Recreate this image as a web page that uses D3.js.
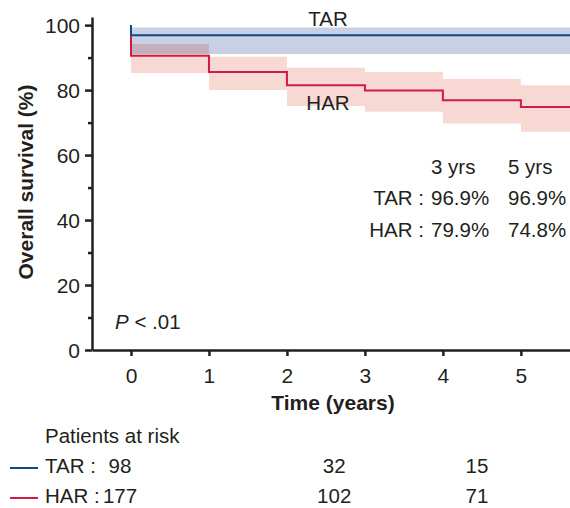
<!DOCTYPE html>
<html lang="en">
<head>
    <meta charset="UTF-8">
    <title>Overall survival TAR vs HAR</title>
    <script src="https://d3js.org/d3.v7.min.js"></script>
    <style>
        body { margin: 0; background: #fff; }
        svg { display: block; font-family: "Liberation Sans", Arial, sans-serif; }
        .axis path, .axis line { stroke: #231f20; stroke-width: 2.5; }
        .axis text { font-size: 21px; fill: #231f20; }
        .lbl { font-size: 20.5px; fill: #231f20; }
        .title { font-size: 21px; font-weight: bold; fill: #231f20; }
    </style>
</head>
<body>
<svg id="chart" width="570" height="508"></svg>
<script>
    // Kaplan-Meier steps (years, %)
    const tarTimes = [0];
    const tarSurv = [96.9];
    const tarLower = [91.1];
    const tarUpper = [99.3];

    const harTimes = [0, 1, 2, 3, 4, 5];
    const harSurv = [90.6, 85.6, 81.5, 79.9, 76.9, 74.8];
    const harLower = [85.3, 80.0, 75.1, 73.3, 69.7, 67.2];
    const harUpper = [94.2, 90.3, 86.9, 85.6, 83.4, 81.5];

    // summary table
    const summaryCols = ['3 yrs', '5 yrs'];
    const summaryRows = [
        { name: 'TAR', vals: ['96.9%', '96.9%'] },
        { name: 'HAR', vals: ['79.9%', '74.8%'] }
    ];

    // patients at risk
    const riskTimes = [0, 3, 5];
    const tarRisk = [98, 32, 15];
    const harRisk = [177, 102, 71];

    const xTicks = [0, 1, 2, 3, 4, 5];
    const yTicks = [0, 20, 40, 60, 80, 100];
    const yMinor = [10, 30, 50, 70, 90];

    const blue = '#0e4a85', red = '#d21947';
    const blueBand = '#c9d0e4', redBand = '#f8d8d2';

    const svg = d3.select('#chart');
    const tMax = 5.63;

    const x = d3.scaleLinear().domain([-0.5, tMax]).range([92, 570]);
    const y = d3.scaleLinear().domain([0, 102.5]).range([350, 17]);
    const riskX = d3.scaleLinear().domain([0, 5]).range([120, 477]);

    svg.append('clipPath').attr('id', 'clip')
        .append('rect').attr('x', 92).attr('y', 0).attr('width', 478).attr('height', 350);

    const plot = svg.append('g').attr('clip-path', 'url(#clip)');

    function stepData(times, surv, lo, hi) {
        const d = times.map((t, i) => ({ t: t, s: surv[i], lo: lo[i], hi: hi[i] }));
        const last = d[d.length - 1];
        d.push({ t: tMax, s: last.s, lo: last.lo, hi: last.hi });
        return d;
    }

    const tarData = stepData(tarTimes, tarSurv, tarLower, tarUpper);
    const harData = stepData(harTimes, harSurv, harLower, harUpper);

    const band = d3.area()
        .curve(d3.curveStepAfter)
        .x(d => x(d.t))
        .y0(d => y(d.lo))
        .y1(d => y(d.hi));

    const line = d3.line()
        .curve(d3.curveStepAfter)
        .x(d => x(d.t))
        .y(d => y(d.s));

    plot.append('path').datum(tarData)
        .attr('d', band).attr('fill', blueBand);
    plot.append('path').datum(harData)
        .attr('d', band).attr('fill', redBand)
        .style('mix-blend-mode', 'multiply');

    plot.append('path').datum([{ t: 0, s: 100 }].concat(harData))
        .attr('d', line).attr('fill', 'none')
        .attr('stroke', red).attr('stroke-width', 2);
    plot.append('path').datum([{ t: 0, s: 100 }].concat(tarData))
        .attr('d', line).attr('fill', 'none')
        .attr('stroke', blue).attr('stroke-width', 2);

    // axes
    svg.append('g')
        .attr('class', 'axis')
        .attr('transform', 'translate(92,0)')
        .call(d3.axisLeft(y).tickValues(yTicks).tickSize(7).tickSizeOuter(0).tickPadding(5).tickFormat(d3.format('d')))
        .call(g => g.selectAll('text').attr('dy', '0.36em'));

    svg.append('g')
        .attr('class', 'axis')
        .attr('transform', 'translate(92,0)')
        .call(d3.axisLeft(y).tickValues(yMinor).tickSize(4).tickSizeOuter(0).tickFormat(''))
        .call(g => g.select('.domain').remove());

    svg.append('g')
        .attr('class', 'axis')
        .attr('transform', 'translate(0,350)')
        .call(d3.axisBottom(x).tickValues(xTicks).tickSize(6).tickSizeOuter(0).tickPadding(12).tickFormat(d3.format('d')));

    svg.append('text').attr('class', 'title')
        .attr('transform', 'translate(33,182) rotate(-90)')
        .attr('text-anchor', 'middle')
        .text('Overall survival (%)');

    svg.append('text').attr('class', 'title')
        .attr('x', 333).attr('y', 410)
        .attr('text-anchor', 'middle')
        .text('Time (years)');

    // curve labels
    svg.append('text').attr('class', 'lbl')
        .attr('x', 328).attr('y', 26).attr('text-anchor', 'middle').text('TAR');
    svg.append('text').attr('class', 'lbl')
        .attr('x', 328).attr('y', 110).attr('text-anchor', 'middle').text('HAR');

    // p value
    const p = svg.append('text').attr('class', 'lbl').attr('x', 115).attr('y', 329);
    p.append('tspan').style('font-style', 'italic').text('P');
    p.append('tspan').text(' < .01');

    // summary table
    const colX = [431, 508];
    summaryCols.forEach((c, i) => {
        svg.append('text').attr('class', 'lbl')
            .attr('x', colX[i]).attr('y', 174).text(c);
    });
    summaryRows.forEach((r, j) => {
        const yy = 205 + j * 32;
        svg.append('text').attr('class', 'lbl')
            .attr('x', 424).attr('y', yy).attr('text-anchor', 'end').text(r.name + ' :');
        r.vals.forEach((v, i) => {
            svg.append('text').attr('class', 'lbl')
                .attr('x', colX[i]).attr('y', yy).text(v);
        });
    });

    // patients at risk
    svg.append('text').attr('class', 'lbl')
        .attr('x', 45).attr('y', 443).text('Patients at risk');

    const riskRows = [
        { name: 'TAR :', color: blue, vals: tarRisk, y: 473 },
        { name: 'HAR :', color: red, vals: harRisk, y: 503 }
    ];
    riskRows.forEach(r => {
        svg.append('line')
            .attr('x1', 10).attr('x2', 38)
            .attr('y1', r.y - 5).attr('y2', r.y - 5)
            .attr('stroke', r.color).attr('stroke-width', 2);
        svg.append('text').attr('class', 'lbl')
            .attr('x', 45).attr('y', r.y).text(r.name);
        svg.selectAll(null)
            .data(riskTimes.map((t, i) => ({ t: t, n: r.vals[i] })))
            .enter().append('text')
            .attr('class', 'lbl')
            .attr('x', d => riskX(d.t))
            .attr('y', r.y)
            .attr('text-anchor', 'middle')
            .text(d => d.n);
    });
</script>
</body>
</html>
